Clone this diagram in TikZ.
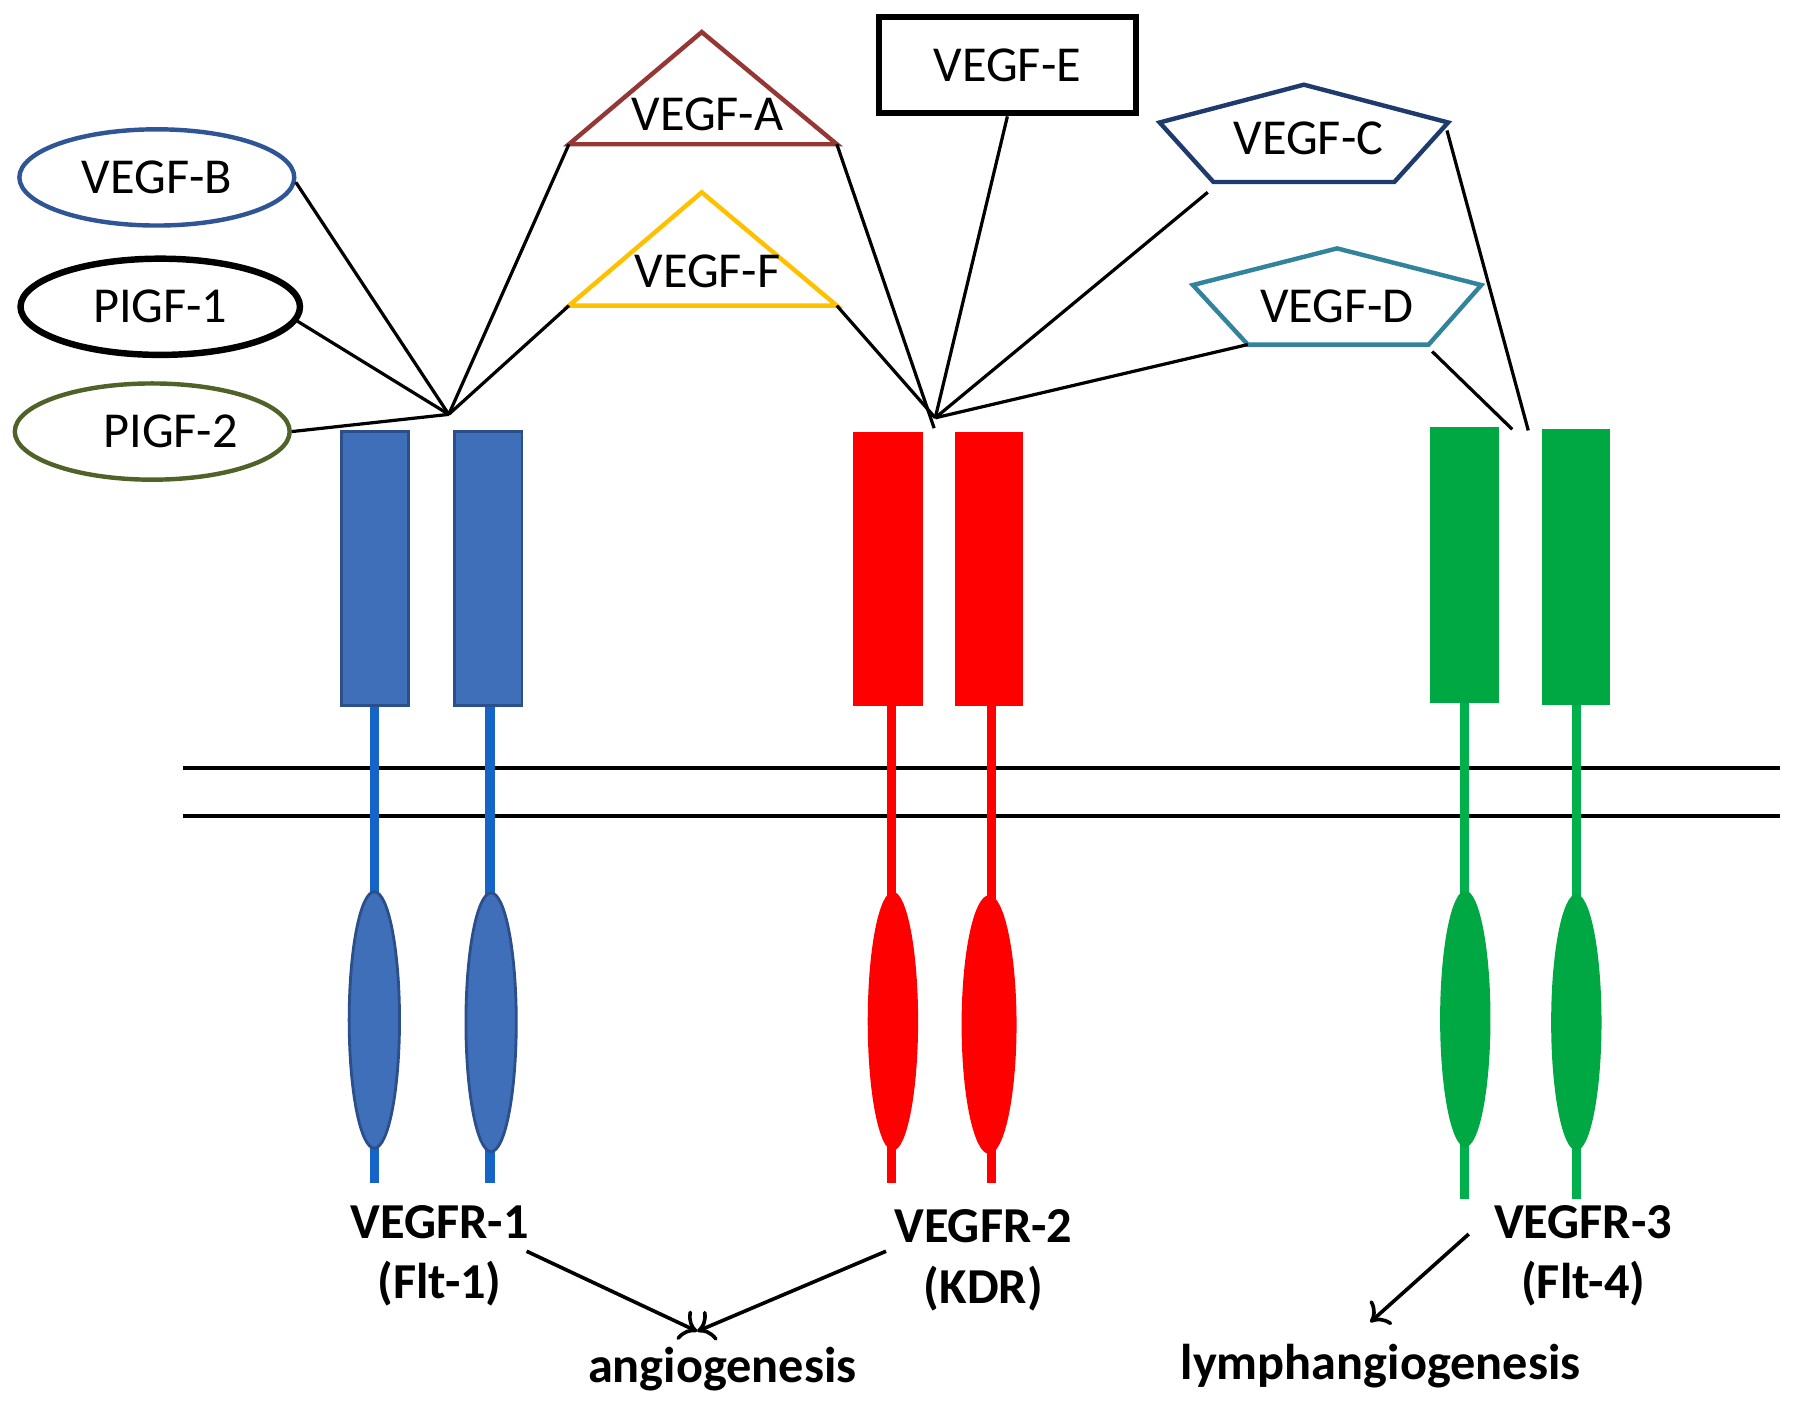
\documentclass[tikz,border=0pt]{standalone}
\usepackage{fontspec}
\setmainfont{Carlito}
\usetikzlibrary{shapes.geometric,arrows.meta}
\definecolor{bOval}{HTML}{2F5597}
\definecolor{plOval}{HTML}{4F6228}
\definecolor{aTri}{HTML}{953735}
\definecolor{fTri}{HTML}{FFC000}
\definecolor{cPent}{HTML}{1F3B6E}
\definecolor{dPent}{HTML}{31849B}
\definecolor{rOneFill}{HTML}{3E6FB8}
\definecolor{rOneLine}{HTML}{2A4F8A}
\definecolor{rOneStem}{HTML}{1565C8}
\definecolor{rTwo}{HTML}{FF0000}
\definecolor{rThree}{HTML}{00A843}
\definecolor{rThreeStem}{HTML}{00B04A}
\tikzset{
  ligtext/.style={font=\fontsize{12.5}{15}\selectfont, inner sep=0pt},
  ligoval/.style={ellipse, draw, line width=1.1pt, minimum width=2.4cm, minimum height=0.84cm, ligtext},
  bind/.style={line width=0.8pt},
  rlabel/.style={font=\fontsize{12.5}{15}\selectfont\bfseries, align=center, inner sep=0pt},
  arr/.style={-{To[length=4pt,width=8pt]}, line width=0.9pt},
  stem/.style={line width=0.08cm}
}
\begin{document}
\begin{tikzpicture}[x=0.01cm,y=-0.01cm]
\useasboundingbox (0,0) rectangle (1568,1231);
% ligands
\node[ligoval, draw=bOval] (vegfb) at (137,155) {VEGF-B};
\node[ligoval, line width=1.6pt, minimum width=2.44cm] (plgfa) at (140,268) {PIGF-1};
\node[ligoval, draw=plOval] (plgfb) at (133,377) {};
\node[ligtext] (plgfbtext) at (149,377) {PIGF-2};
\draw[aTri, line width=1.1pt] (613,28) coordinate (atop) -- (731,126) coordinate (aright) -- (497,126) coordinate (aleft) -- cycle;
\node[ligtext] (vegfa) at (618,100) {VEGF-A};
\draw[fTri, line width=1.1pt] (613,168) coordinate (ftop) -- (731,267) coordinate (fright) -- (497,267) coordinate (fleft) -- cycle;
\node[ligtext] (vegff) at (618,237) {VEGF-F};
\node[draw, line width=1.5pt, minimum width=2.25cm, minimum height=0.84cm, ligtext] (vegfe) at (880,57) {VEGF-E};
\draw[cPent, line width=1.1pt] (1139,74) -- (1265,107) -- (1218,159) -- (1060,159) -- (1013,107) -- cycle;
\node[ligtext] (vegfc) at (1143,121) {VEGF-C};
\draw[dPent, line width=1.1pt] (1168,217) -- (1294,249) -- (1248,301) -- (1090,301) -- (1042,249) -- cycle;
\node[ligtext] (vegfd) at (1168,268) {VEGF-D};
\coordinate (cleft) at (1055,168);
\coordinate (cright) at (1264,114);
\coordinate (dleft) at (1090,301);
\coordinate (dright) at (1251,307);
% binding lines
\coordinate (j1) at (392,362);
\coordinate (j2) at (817,365);
\coordinate (j2tip) at (816,374);
\coordinate (j3c) at (1335,376);
\coordinate (j3d) at (1321,375);
\draw[bind] (vegfb.-2) -- (j1);
\draw[bind] (plgfa.-6) -- (j1);
\draw[bind] (plgfb.east) -- (j1);
\draw[bind] (aleft) -- (j1);
\draw[bind] (fleft) -- (j1);
\draw[bind] (aright) -- (j2tip);
\draw[bind] (fright) -- (j2);
\draw[bind] (vegfe.south) -- (j2);
\draw[bind] (cleft) -- (j2);
\draw[bind] (dleft) -- (j2);
\draw[bind] (cright) -- (j3c);
\draw[bind] (dright) -- (j3d);
% membrane
\draw[line width=1.1pt] (160,671) -- (1555,671);
\draw[line width=1.1pt] (160,713) -- (1555,713);
% VEGFR-1
\draw[rOneStem, stem] (327,616) -- (327,1033);
\draw[rOneStem, stem] (428,616) -- (428,1033);
\draw[fill=rOneFill, draw=rOneLine, line width=0.7pt] (298,377) rectangle (357,616);
\draw[fill=rOneFill, draw=rOneLine, line width=0.7pt] (397,377) rectangle (456,616);
\draw[fill=rOneFill, draw=rOneLine, line width=0.7pt] (327,891) ellipse (22 and 112);
\draw[fill=rOneFill, draw=rOneLine, line width=0.7pt] (429,893) ellipse (22 and 113);
% VEGFR-2
\draw[rTwo, stem] (779,617) -- (779,1033);
\draw[rTwo, stem] (866,617) -- (866,1033);
\fill[rTwo] (745,377) rectangle (806,617);
\fill[rTwo] (834,377) rectangle (894,617);
\fill[rTwo] (780,892) ellipse (22 and 113);
\fill[rTwo] (864,895) ellipse (24 and 113);
% VEGFR-3
\draw[rThreeStem, stem] (1279,614) -- (1279,1047);
\draw[rThreeStem, stem] (1377,616) -- (1377,1047);
\fill[rThree] (1249,373) rectangle (1309,614);
\fill[rThree] (1347,375) rectangle (1406,616);
\fill[rThree] (1280,890) ellipse (22 and 112);
\fill[rThree] (1377,893) ellipse (22 and 112);
% labels
\node[rlabel] (r1lab) at (384,1097) {VEGFR-1\\(Flt-1)};
\node[rlabel] (r2lab) at (859,1101) {VEGFR-2\\(KDR)};
\node[rlabel] (r3lab) at (1383,1097) {VEGFR-3\\(Flt-4)};
\node[rlabel] (angio) at (631,1196) {angiogenesis};
\node[rlabel] (lymph) at (1206,1193) {lymphangiogenesis};
\coordinate (angtip) at (609,1163);
\coordinate (lymtip) at (1197,1155);
\coordinate (r1out) at (460,1093);
\coordinate (r2out) at (774,1093);
\coordinate (r3out) at (1283,1078);
\draw[arr] (r1out) -- (angtip);
\draw[arr] (r2out) -- (angtip);
\draw[arr] (r3out) -- (lymtip);
\end{tikzpicture}
\end{document}
